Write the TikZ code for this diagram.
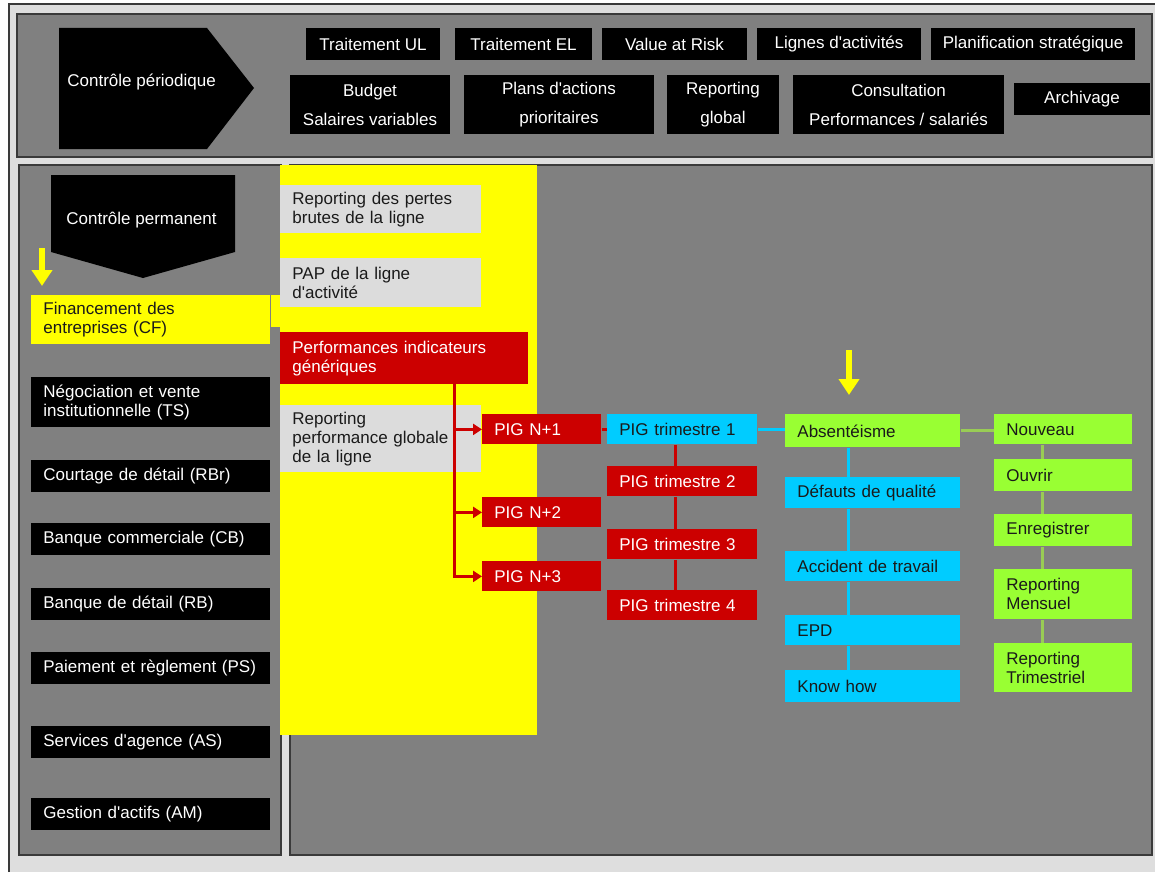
\documentclass[tikz,border=0pt]{standalone}
\usepackage{fontspec}
\setmainfont{Liberation Sans}
\usetikzlibrary{arrows.meta,positioning}

\definecolor{panelgray}{HTML}{808080}
\definecolor{outergray}{HTML}{DEDEDE}
\definecolor{boxgray}{HTML}{DCDCDC}
\definecolor{pigred}{HTML}{CC0000}
\definecolor{skyblue}{HTML}{00CCFF}
\definecolor{limegreen}{HTML}{99FF33}
\definecolor{limeline}{HTML}{99CC55}
\definecolor{frameline}{HTML}{3A3A3A}
\definecolor{inkdark}{HTML}{1A1A1A}
\definecolor{pureyellow}{HTML}{FFFF00}

\begin{document}
\begin{tikzpicture}[
    x=0.5pt, y=-0.5pt,
    every node/.style={font=\fontsize{8.5}{9.5}\selectfont},
    topbox/.style={fill=black, text=white, inner sep=0pt, align=center, minimum height=16pt},
    tallbox/.style={topbox, minimum height=29.5pt, font=\fontsize{8.5}{14.5}\selectfont},
    lbox/.style={anchor=north west, inner xsep=6pt, inner ysep=0pt, align=left, minimum height=16pt},
    linebox/.style={lbox, fill=black, text=white, text width=107.5pt},
    cfbox/.style={lbox, fill=pureyellow, text=inkdark, text width=107.5pt},
    midbox/.style={lbox, fill=boxgray, text=inkdark, text width=88.5pt},
    perfbox/.style={lbox, fill=pigred, text=white, text width=112pt},
    pigbox/.style={lbox, fill=pigred, text=white, text width=47.5pt, minimum height=15pt},
    trimbox/.style={lbox, fill=pigred, text=white, text width=63pt, minimum height=15pt},
    cyanbox/.style={lbox, fill=skyblue, text=inkdark, text width=75.5pt},
    greenbox/.style={lbox, fill=limegreen, text=inkdark, text width=57pt},
    redline/.style={draw=pigred, line width=1.5pt},
    redarrow/.style={redline, -{Triangle[length=4.5pt,width=5.5pt]}},
    cyanline/.style={draw=skyblue, line width=1.5pt},
    greenline/.style={draw=limeline, line width=1.5pt},
    yarrow/.style={draw=pureyellow, line width=3pt, -{Triangle[length=8pt,width=10pt]}},
    panel/.style={fill=panelgray, draw=frameline, line width=1pt}
]
    \useasboundingbox (0,0) rectangle (1155,872);
    \fill[white] (0,0) rectangle (1155,872);
    \fill[outergray] (9,4) rectangle (1155,872);
    \draw[frameline, line width=1pt] (9,872) -- (9,4) -- (1155,4);

    % panels
    \filldraw[panel] (17,14) rectangle (1152,157);
    \filldraw[panel] (19,165) rectangle (281,855);
    \filldraw[panel] (290,165) rectangle (1152,855);
    \fill[pureyellow] (280,165) rectangle (537,735);

    % controle periodique
    \fill[black] (59,28) -- (207,28) -- (254,88) -- (207,149) -- (59,149) -- cycle;
    \node[anchor=west, inner sep=0pt, text=white] (cperiod) at (67,82) {Contrôle périodique};

    \node[topbox, minimum width=67pt] (tul) at (373,44) {Traitement UL};
    \node[topbox, minimum width=68.5pt] (tel) at (523.5,44) {Traitement EL};
    \node[topbox, minimum width=72.5pt] (var) at (674.5,44) {Value at Risk};
    \node[topbox, minimum width=82pt] (lignes) at (839,44) {Lignes d\textquotesingle activités};
    \node[topbox, minimum width=102pt] (planif) at (1033,44) {Planification stratégique};

    \node[tallbox, minimum width=80pt] (budget) at (370,104.5) {Budget\\Salaires variables};
    \node[tallbox, minimum width=95pt] (plans) at (559,104.5) {Plans d\textquotesingle actions\\prioritaires};
    \node[tallbox, minimum width=56pt] (repglob) at (723,104.5) {Reporting\\global};
    \node[tallbox, minimum width=105.5pt] (consult) at (898.5,104.5) {Consultation\\Performances / salariés};
    \node[topbox, minimum width=68pt] (archiv) at (1082,99) {Archivage};

    % controle permanent
    \fill[black] (51,175) -- (235,175) -- (235,252) -- (143,278) -- (51,252) -- cycle;
    \node[anchor=west, inner sep=0pt, text=white] (cperm) at (66,220) {Contrôle permanent};

    \node[cfbox, minimum height=24.5pt] (cf) at (31,295) {Financement des\\entreprises (CF)};
    \fill[pureyellow] (cf.north east) rectangle (281,327);
    \node[linebox, minimum height=25pt] (ts) at (31,377) {Négociation et vente\\institutionnelle (TS)};
    \node[linebox] (rbr) at (31,460) {Courtage de détail (RBr)};
    \node[linebox] (cb) at (31,523) {Banque commerciale (CB)};
    \node[linebox] (rb) at (31,588) {Banque de détail (RB)};
    \node[linebox] (ps) at (31,652) {Paiement et règlement (PS)};
    \node[linebox] (agence) at (31,726) {Services d\textquotesingle agence (AS)};
    \node[linebox] (am) at (31,798) {Gestion d\textquotesingle actifs (AM)};

    % yellow column
    \node[midbox, minimum height=24pt] (pertes) at (280,185) {Reporting des pertes\\brutes de la ligne};
    \node[midbox, minimum height=24.5pt] (pap) at (280,258) {PAP de la ligne\\d\textquotesingle activité};
    \node[perfbox, minimum height=26pt] (perf) at (280,332) {Performances indicateurs\\génériques};
    \node[midbox, minimum height=33.5pt] (repperf) at (280,405) {Reporting\\performance globale\\de la ligne};

    \node[pigbox] (pig1) at (482,414) {PIG N+1};
    \node[pigbox] (pig2) at (482,497) {PIG N+2};
    \node[pigbox] (pig3) at (482,561) {PIG N+3};

    \node[trimbox, fill=skyblue, text=inkdark] (trim1) at (607,414) {PIG trimestre 1};
    \node[trimbox] (trim2) at (607,466) {PIG trimestre 2};
    \node[trimbox] (trim3) at (607,529) {PIG trimestre 3};
    \node[trimbox] (trim4) at (607,590) {PIG trimestre 4};

    \node[greenbox, text width=75.5pt, minimum height=16.5pt] (absent) at (785,414) {Absentéisme};
    \node[cyanbox, minimum height=15.5pt] (defauts) at (785,477) {Défauts de qualité};
    \node[cyanbox, minimum height=15pt] (accident) at (785,551) {Accident de travail};
    \node[cyanbox, minimum height=15pt] (epd) at (785,615) {EPD};
    \node[cyanbox] (knowhow) at (785,670) {Know how};

    \node[greenbox, minimum height=15pt] (nouveau) at (994,414) {Nouveau};
    \node[greenbox] (ouvrir) at (994,459) {Ouvrir};
    \node[greenbox] (enreg) at (994,514) {Enregistrer};
    \node[greenbox, minimum height=25pt] (repmens) at (994,569) {Reporting\\Mensuel};
    \node[greenbox, minimum height=24.5pt] (reptrim) at (994,643) {Reporting\\Trimestriel};

    % connectors
    \coordinate (trunk) at (454,384);
    \draw[redarrow] (trunk) |- (pig1);
    \draw[redarrow] (trunk) |- (pig2);
    \draw[redarrow] (trunk) |- (pig3);
    \draw[redline] (pig1.east) -- (pig1.east -| trim1.west);
    \draw[redline] ([xshift=-3.5pt]trim1.south) -- ([xshift=-3.5pt]trim2.north);
    \draw[redline] ([xshift=-3.5pt]trim2.south) -- ([xshift=-3.5pt]trim3.north);
    \draw[redline] ([xshift=-3.5pt]trim3.south) -- ([xshift=-3.5pt]trim4.north);

    \draw[cyanline] (trim1.east) -- (trim1.east -| absent.west);
    \draw[cyanline] ([xshift=-12.25pt]absent.south) -- ([xshift=-12.25pt]defauts.north);
    \draw[cyanline] ([xshift=-12.25pt]defauts.south) -- ([xshift=-12.25pt]accident.north);
    \draw[cyanline] ([xshift=-12.25pt]accident.south) -- ([xshift=-12.25pt]epd.north);
    \draw[cyanline] ([xshift=-12.25pt]epd.south) -- ([xshift=-12.25pt]knowhow.north);

    \draw[greenline] (absent.east) -- (absent.east -| nouveau.west);
    \draw[greenline] ([xshift=-10.5pt]nouveau.south) -- ([xshift=-10.5pt]ouvrir.north);
    \draw[greenline] ([xshift=-10.5pt]ouvrir.south) -- ([xshift=-10.5pt]enreg.north);
    \draw[greenline] ([xshift=-10.5pt]enreg.south) -- ([xshift=-10.5pt]repmens.north);
    \draw[greenline] ([xshift=-10.5pt]repmens.south) -- ([xshift=-10.5pt]reptrim.north);

    \coordinate (yincf) at (42,248);
    \draw[yarrow, shorten >=4.5pt] (yincf) -- (yincf |- cf.north);
    \coordinate (yinabs) at (849,350);
    \draw[yarrow, shorten >=9.5pt] (yinabs) -- (yinabs |- absent.north);
\end{tikzpicture}
\end{document}
